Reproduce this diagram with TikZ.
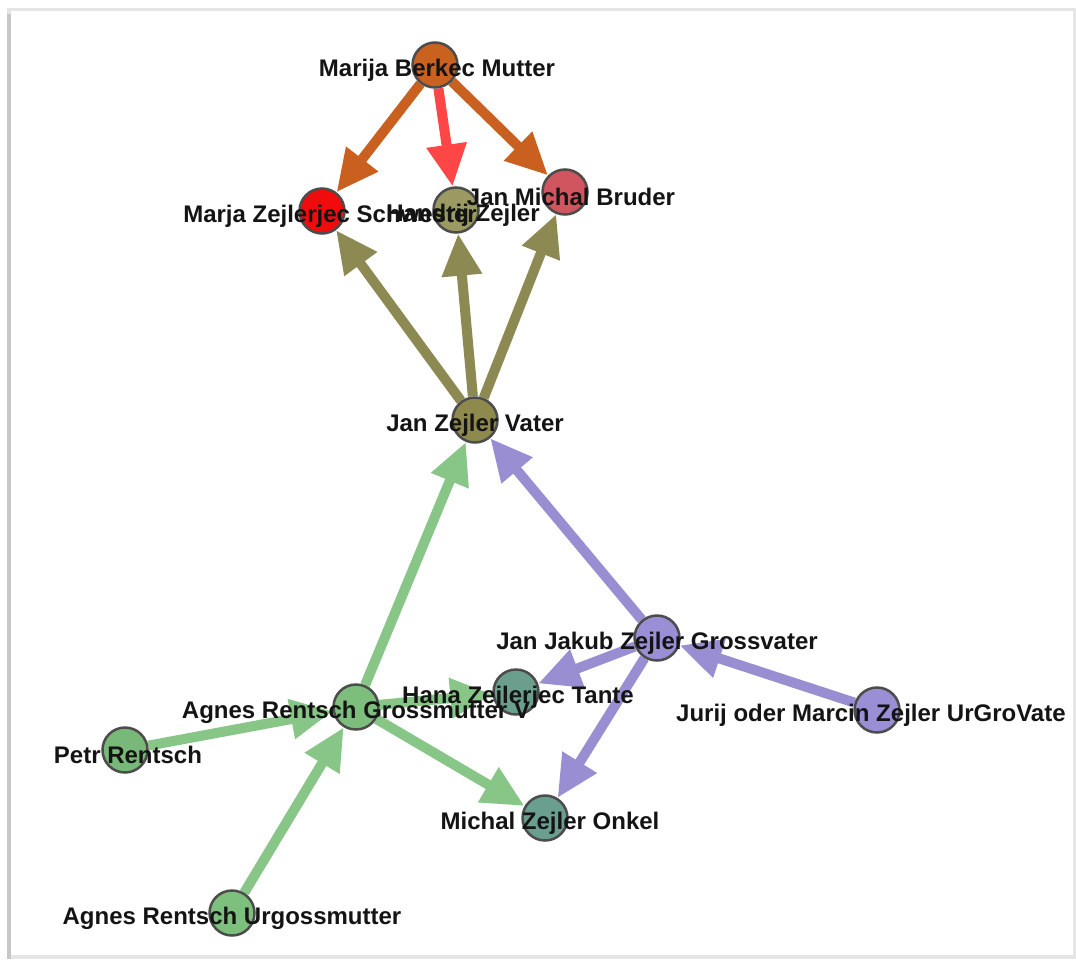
\documentclass[tikz,border=0pt]{standalone}
\usepackage{fontspec}
\setmainfont{Liberation Sans}
\usetikzlibrary{arrows.meta, backgrounds}

\definecolor{orng}{HTML}{C9601F}
\definecolor{rosy}{HTML}{FF4646}
\definecolor{olive}{HTML}{8C8A52}
\definecolor{grn}{HTML}{88C688}
\definecolor{lila}{HTML}{9A8ED2}

\begin{document}
\begin{tikzpicture}[x=1pt, y=-1pt,
  person/.style={circle, draw=black!70, line width=2.5pt, minimum size=45pt, inner sep=0pt},
  tie/.style={line width=10pt, -{Triangle[length=42pt, width=38pt]}},
  persname/.style={font=\fontsize{24}{28}\selectfont\bfseries, inner sep=0pt, text=black!92}]
\useasboundingbox (0,0) rectangle (1076,959);
% people
\foreach \n/\x/\y/\c in {mutter/435/65/C9611F, schwester/322/211/F00C0C, handrij/456/210/9A9A62,
    bruder/565/192/D0555E, vater/475/420/8E8A4E, grossvater/657/638/9A8ED4, tante/516/692/6B9E8C,
    grossmutter/356/707/7DBE7D, petr/125/750/78B878, onkel/545/818/6A9E8E,
    urgrovater/877/710/9A8ED4, urgrossmutter/232/913/7DBF7D} {
    \definecolor{fillc}{HTML}{\c}
    \node[person, fill=fillc] (\n) at (\x,\y) {};
}
\begin{scope}[on background layer]
% frame
\fill[black!10] (7,8) rectangle (1076,959);
\fill[black!22] (7,14) rectangle (11,959);
\fill[white] (11,11) rectangle (1073,955);
% parent -> child
\foreach \a/\b/\c in {mutter/schwester/orng, mutter/handrij/rosy, mutter/bruder/orng,
    vater/schwester/olive, vater/handrij/olive, vater/bruder/olive,
    grossmutter/vater/grn, grossvater/vater/lila, grossvater/tante/lila, grossvater/onkel/lila,
    urgrovater/grossvater/lila, grossmutter/tante/grn, grossmutter/onkel/grn,
    petr/grossmutter/grn, urgrossmutter/grossmutter/grn} {
    \draw[tie, \c] (\a) -- (\b);
}
\end{scope}
% names
\foreach \n/\t/\dx in {mutter/Marija Berkec Mutter/2, schwester/Marja Zejlerjec Schwester/8,
    handrij/Handrij Zejler/7, bruder/Jan Michal Bruder/6, vater/Jan Zejler Vater/0,
    grossvater/Jan Jakub Zejler Grossvater/0, tante/Hana Zejlerjec Tante/2,
    grossmutter/Agnes Rentsch Grossmutter V/0, petr/Petr Rentsch/3, onkel/Michal Zejler Onkel/5,
    urgrossmutter/Agnes Rentsch Urgossmutter/0} {
    \node[persname] (\n-name) at (\n) [xshift=\dx pt, yshift=-5pt] {\t};
}
\node[persname, anchor=west] (urgrovater-name) at (urgrovater) [xshift=-201pt, yshift=-5pt] {Jurij oder Marcin Zejler UrGroVate};
\end{tikzpicture}
\end{document}
